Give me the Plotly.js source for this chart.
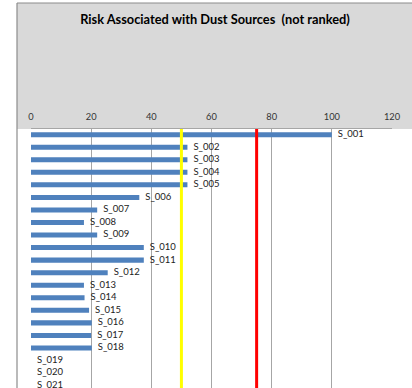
<!DOCTYPE html>
<html>
<head>
<meta charset="utf-8">
<script src="https://cdn.plot.ly/plotly-3.0.1.min.js"></script>
<style>
html, body { margin: 0; padding: 0; overflow: hidden; background: #fff; }
#chart { width: 412px; height: 388px; }
</style>
</head>
<body>
<div id="chart"></div>
<script>
const sources = ["S_001","S_002","S_003","S_004","S_005","S_006","S_007","S_008","S_009","S_010","S_011","S_012","S_013","S_014","S_015","S_016","S_017","S_018","S_019","S_020","S_021"];
const riskValues = [100, 52, 52, 52, 52, 36, 22, 17.6, 22, 37.5, 37.5, 25.5, 17.6, 17.8, 19.3, 20.2, 20, 20.2, 0, 0, 0];
const thresholdLevels = [50, 75];
const thresholdColors = ["#FFFF00", "#FF0000"];
const xTicks = [0, 20, 40, 60, 80, 100, 120];

const positions = sources.map((s, i) => i);

const W = 412, H = 388, ML = 31, MR = 20, MT = 129, MB = 0;
const plotW = W - ML - MR, plotH = H - MT - MB;
const px2x = p => (p - ML) / plotW;
const px2y = p => 1 + (MT - p) / plotH;
const FONT = "Lato, 'Open Sans', sans-serif";

const bars = {
  type: "bar",
  orientation: "h",
  x: riskValues,
  y: positions,
  width: 0.4,
  marker: { color: "#4F81BD", line: { width: 0 } },
  hoverinfo: "x",
  showlegend: false
};

const labels = {
  type: "scatter",
  mode: "markers+text",
  x: riskValues,
  y: positions,
  text: sources,
  textposition: "middle right",
  marker: { size: 8, color: "rgba(0,0,0,0)" },
  textfont: { family: FONT, size: 9.5, color: "#222" },
  cliponaxis: false,
  hoverinfo: "text",
  showlegend: false
};

const shapes = [
  { type: "rect", xref: "paper", yref: "paper", x0: px2x(17), x1: px2x(414), y0: 1, y1: px2y(3), fillcolor: "#D9D9D9", line: { width: 0 }, layer: "below" },
  { type: "line", xref: "paper", yref: "paper", x0: px2x(17), x1: px2x(414), y0: px2y(3), y1: px2y(3), line: { color: "#8C8C8C", width: 1.2 } },
  { type: "line", xref: "paper", yref: "paper", x0: px2x(17), x1: px2x(17), y0: px2y(3), y1: px2y(H + 2), line: { color: "#8C8C8C", width: 1.2 } }
];
thresholdLevels.forEach((v, i) => {
  shapes.push({ type: "line", xref: "x", yref: "paper", x0: v, x1: v, y0: 0, y1: 1, line: { color: thresholdColors[i], width: 3 }, layer: "above" });
});

const layout = {
  width: W, height: H,
  margin: { l: ML, r: MR, t: MT, b: MB, pad: 0 },
  paper_bgcolor: "#FFFFFF",
  plot_bgcolor: "#FFFFFF",
  title: {
    text: "<b>Risk Associated with Dust Sources  (not ranked)</b>",
    font: { family: FONT, size: 12.8, color: "#000" },
    x: 215 / W, xanchor: "center",
    y: 1 - 20 / H, yanchor: "middle"
  },
  xaxis: {
    side: "top",
    range: [0, 120],
    tickvals: xTicks,
    ticktext: xTicks.map(String),
    showgrid: true,
    gridcolor: "#A6A6A6",
    gridwidth: 1,
    zeroline: false,
    showline: true,
    linecolor: "#A6A6A6",
    linewidth: 1,
    ticks: "inside",
    ticklen: 3,
    tickcolor: "#A6A6A6",
    tickfont: { family: FONT, size: 9.3, color: "#333" },
    ticklabelstandoff: 4,
    fixedrange: true
  },
  yaxis: {
    range: [20.19, -0.45],
    showticklabels: false,
    showgrid: false,
    zeroline: false,
    showline: false,
    ticks: "",
    fixedrange: true
  },
  shapes: shapes,
  bargap: 0.6,
  showlegend: false
};

Plotly.newPlot("chart", [bars, labels], layout, { displayModeBar: false, staticPlot: true });
</script>
</body>
</html>
